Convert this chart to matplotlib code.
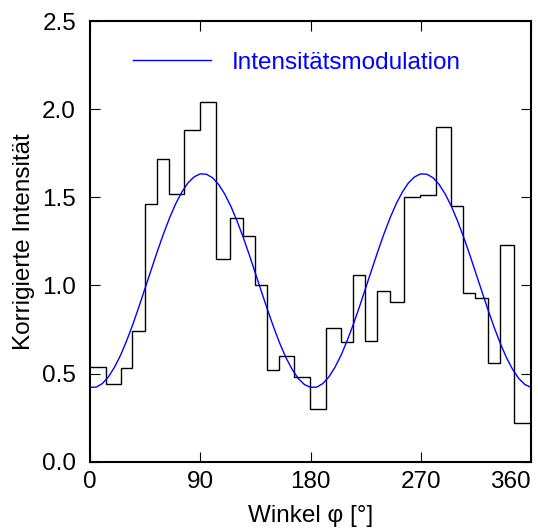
import matplotlib
matplotlib.use("Agg")
import matplotlib.pyplot as plt


# Histogram bin edges (degrees) and corrected intensities
bin_edges = [0, 12.8, 25, 34.5, 44.5, 54.5, 64.5, 76.5, 89.5, 102.5, 114.5, 124.5,
             134.5, 144.5, 154.5, 166.5, 179.5, 192.5, 204.5, 214.5, 224.5, 234.5,
             244.5, 256.5, 269.5, 282.5, 294.5, 304.5, 314.5, 324.5, 334.5, 346.5, 360]
intensity = [0.54, 0.44, 0.53, 0.74, 1.46, 1.72, 1.52, 1.88, 2.04, 1.15, 1.38, 1.28,
             1.00, 0.52, 0.60, 0.48, 0.30, 0.76, 0.68, 1.06, 0.685, 0.968, 0.907, 1.50,
             1.515, 1.90, 1.45, 0.958, 0.93, 0.56, 1.227, 0.218]

# Modulation curve, sampled every 5 degrees off the picture
mod_angle = list(range(0, 365, 5))
mod_value = [0.422, 0.423, 0.443, 0.481, 0.536, 0.605, 0.688, 0.780, 0.880, 0.985,
             1.090, 1.194, 1.293, 1.384, 1.464, 1.530, 1.582, 1.616, 1.633, 1.631,
             1.611, 1.573, 1.518, 1.449, 1.366, 1.274, 1.174, 1.069, 0.964, 0.860,
             0.761, 0.670, 0.590, 0.524, 0.472, 0.438,
             0.422, 0.423, 0.443, 0.481, 0.536, 0.605, 0.688, 0.780, 0.880, 0.985,
             1.090, 1.194, 1.293, 1.384, 1.464, 1.530, 1.582, 1.616, 1.633, 1.631,
             1.611, 1.573, 1.518, 1.449, 1.366, 1.274, 1.174, 1.069, 0.964, 0.860,
             0.761, 0.670, 0.590, 0.524, 0.472, 0.438, 0.422]

x_ticks = [0, 90, 180, 270, 360]
y_ticks = [0.0, 0.5, 1.0, 1.5, 2.0, 2.5]

plt.rcParams["font.family"] = ["Liberation Sans", "DejaVu Sans"]
plt.rcParams["font.size"] = 17.5

fig = plt.figure(figsize=(5.38, 5.32), dpi=100)
ax = fig.add_axes([0.1673, 0.1321, 0.8197, 0.8284])

ax.stairs(intensity, bin_edges, baseline=None, color="black", linewidth=1.0)
ax.plot(mod_angle, mod_value, color="#0000ff", linewidth=1.0, label="Intensitätsmodulation")

ax.set_xlim(0, 360)
ax.set_ylim(0, 2.5)
ax.set_xticks(x_ticks)
ax.set_yticks(y_ticks)
ax.set_yticklabels([f"{v:.1f}" for v in y_ticks])
ax.tick_params(direction="in", length=7.5, width=0.8, top=True, right=True)
ax.tick_params(axis="x", pad=7)
ax.tick_params(axis="y", pad=10)
# last x label sits flush with the right edge of the frame
ax.get_xticklabels()[-1].set_horizontalalignment("right")
for spine in ax.spines.values():
    spine.set_linewidth(1.5)

ax.set_xlabel("Winkel φ [°]", labelpad=8)
ax.set_ylabel("Korrigierte Intensität", labelpad=5)

ax.legend(loc="center left", bbox_to_anchor=(0.098, 0.905), frameon=False,
          borderpad=0, borderaxespad=0, handlelength=3.2, handletextpad=0.85,
          labelcolor="#0000ff")

fig.savefig("out.png", dpi=100)
